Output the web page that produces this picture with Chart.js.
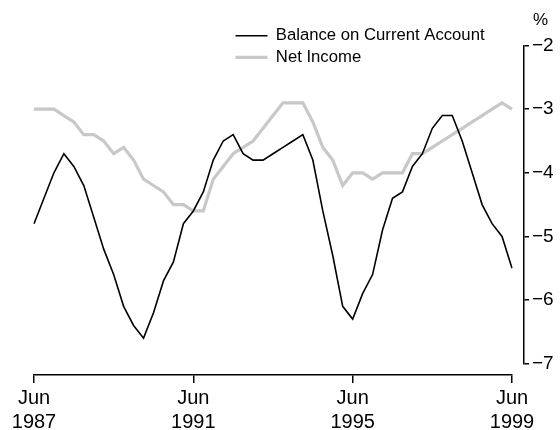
<!DOCTYPE html>
<html>
<head>
<meta charset="utf-8">
<script src="https://cdn.jsdelivr.net/npm/chart.js@4.4.1/dist/chart.umd.min.js"></script>
<style>
    html, body { margin: 0; padding: 0; background: #fff; }
</style>
</head>
<body>
<canvas id="chart" width="560" height="430"></canvas>
<script>
// quarterly, Jun 1987 - Jun 1999
const quarters = [
    'Jun-87', 'Sep-87', 'Dec-87', 'Mar-88', 'Jun-88', 'Sep-88', 'Dec-88', 'Mar-89',
    'Jun-89', 'Sep-89', 'Dec-89', 'Mar-90', 'Jun-90', 'Sep-90', 'Dec-90', 'Mar-91',
    'Jun-91', 'Sep-91', 'Dec-91', 'Mar-92', 'Jun-92', 'Sep-92', 'Dec-92', 'Mar-93',
    'Jun-93', 'Sep-93', 'Dec-93', 'Mar-94', 'Jun-94', 'Sep-94', 'Dec-94', 'Mar-95',
    'Jun-95', 'Sep-95', 'Dec-95', 'Mar-96', 'Jun-96', 'Sep-96', 'Dec-96', 'Mar-97',
    'Jun-97', 'Sep-97', 'Dec-97', 'Mar-98', 'Jun-98', 'Sep-98', 'Dec-98', 'Mar-99',
    'Jun-99'
];

const balanceCurrentAccount = [
    -4.8, -4.4, -4.0, -3.7, -3.9, -4.2, -4.7, -5.2,
    -5.6, -6.1, -6.4, -6.6, -6.2, -5.7, -5.4, -4.8,
    -4.6, -4.3, -3.8, -3.5, -3.4, -3.7, -3.8, -3.8,
    -3.7, -3.6, -3.5, -3.4, -3.8, -4.6, -5.3, -6.1,
    -6.3, -5.9, -5.6, -4.9, -4.4, -4.3, -3.9, -3.7,
    -3.3, -3.1, -3.1, -3.5, -4.0, -4.5, -4.8, -5.0,
    -5.5
];

const netIncome = [
    -3.0, -3.0, -3.0, -3.1, -3.2, -3.4, -3.4, -3.5,
    -3.7, -3.6, -3.8, -4.1, -4.2, -4.3, -4.5, -4.5,
    -4.6, -4.6, -4.1, -3.9, -3.7, -3.6, -3.5, -3.3,
    -3.1, -2.9, -2.9, -2.9, -3.2, -3.6, -3.8, -4.2,
    -4.0, -4.0, -4.1, -4.0, -4.0, -4.0, -3.7, -3.7,
    -3.6, -3.5, -3.4, -3.3, -3.2, -3.1, -3.0, -2.9,
    -3.0
];

const tickQuarters = ['Jun-87', 'Jun-91', 'Jun-95', 'Jun-99'];
const tickLabels = [['Jun', '1987'], ['Jun', '1991'], ['Jun', '1995'], ['Jun', '1999']];
const yTicks = [-2, -3, -4, -5, -6, -7];

const sans = "'Liberation Sans', Arial, sans-serif";

// legend sits inside the plot in two rows without taking layout space,
// and the "%" unit sits over the y axis labels
const placeBlocks = {
    id: 'placeBlocks',
    beforeInit(chart) {
        const fit = chart.legend.fit;
        chart.legend.fit = function () {
            this.maxWidth = 300;
            fit.call(this);
            this.height = 0;
        };
    },
    afterLayout(chart) {
        const lg = chart.legend;
        lg.left = 230.5;
        lg.right = 560;
        lg.top = 22.4;
        lg.bottom = 90;
        chart.titleBlock.right = 548;
    }
};

new Chart(document.getElementById('chart'), {
    type: 'line',
    data: {
        labels: quarters,
        datasets: [
            {
                label: 'Balance on Current Account',
                data: balanceCurrentAccount,
                borderColor: '#000',
                backgroundColor: '#000',
                borderWidth: 1.6,
                pointRadius: 0,
                pointStyle: 'line',
                tension: 0,
                xAxisID: 'x',
                yAxisID: 'y'
            },
            {
                label: 'Net Income',
                data: netIncome,
                borderColor: '#c8c8c8',
                backgroundColor: '#c8c8c8',
                borderWidth: 3.2,
                pointRadius: 0,
                pointStyle: 'line',
                tension: 0,
                xAxisID: 'x',
                yAxisID: 'y'
            }
        ]
    },
    options: {
        responsive: false,
        animation: false,
        layout: { padding: { left: 34, right: 0, top: 0, bottom: 0 } },
        plugins: {
            tooltip: { enabled: false },
            title: {
                display: true,
                text: '%',
                align: 'end',
                color: '#000',
                font: { family: sans, size: 17, weight: 'normal' },
                padding: { top: 10, bottom: 15.2 }
            },
            legend: {
                display: true,
                position: 'top',
                align: 'start',
                labels: {
                    usePointStyle: true,
                    pointStyleWidth: 32,
                    padding: 5,
                    color: '#000',
                    font: { family: sans, size: 16.7 }
                }
            }
        },
        scales: {
            x: {
                type: 'category',
                position: 'bottom',
                weight: 1,
                offset: false,
                grid: { drawOnChartArea: false, tickLength: 8, color: '#000', lineWidth: 1.5 },
                border: { color: '#000', width: 1.5 },
                ticks: {
                    autoSkip: false,
                    maxRotation: 0,
                    padding: 3,
                    color: '#000',
                    font: { family: sans, size: 20 },
                    callback: (value) => tickLabels[tickQuarters.indexOf(quarters[value])]
                },
                afterBuildTicks: (scale) => {
                    scale.ticks = scale.ticks.filter(t => tickQuarters.includes(quarters[t.value]));
                },
                afterFit: (scale) => { scale.height = 55; }
            },
            y: {
                type: 'linear',
                position: 'right',
                weight: 1,
                min: -7,
                max: -2,
                grid: { drawOnChartArea: false, tickLength: 5, color: '#000', lineWidth: 1.5 },
                border: { color: '#000', width: 1.5 },
                ticks: {
                    padding: 3,
                    color: '#000',
                    font: { family: sans, size: 19 },
                    callback: (value) => '\u2212' + Math.abs(value)
                },
                afterBuildTicks: (scale) => {
                    scale.ticks = yTicks.map(v => ({ value: v }));
                },
                afterFit: (scale) => { scale.width = 36; }
            },
            // empty gaps: y axis stands off the plot, x axis sits below -7
            yGap: {
                type: 'linear',
                position: 'right',
                weight: 0,
                grid: { display: false },
                border: { display: false },
                ticks: { display: false },
                afterFit: (scale) => { scale.width = 12; }
            },
            xGap: {
                type: 'linear',
                position: 'bottom',
                weight: 0,
                grid: { display: false },
                border: { display: false },
                ticks: { display: false },
                afterFit: (scale) => { scale.height = 11.4; }
            }
        }
    },
    plugins: [placeBlocks]
});
</script>
</body>
</html>
